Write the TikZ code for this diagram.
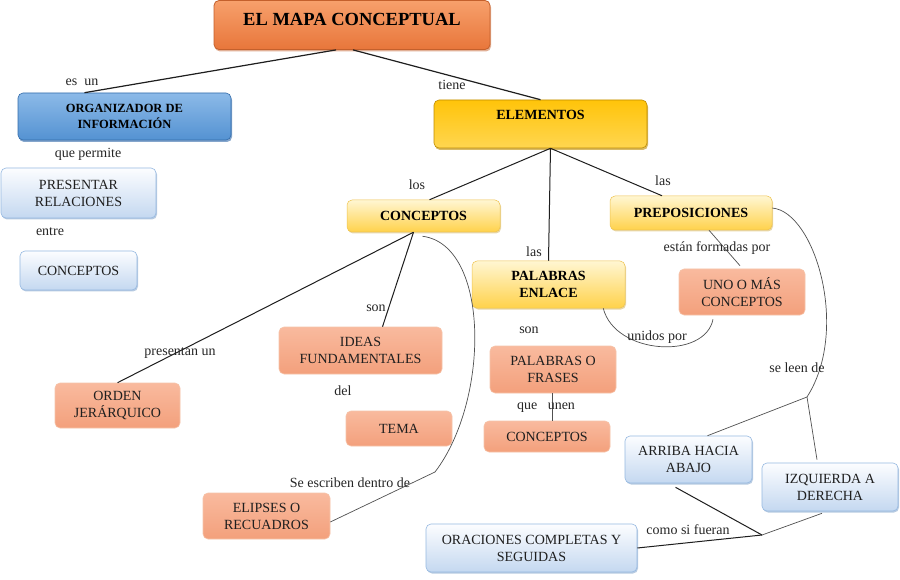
\documentclass[tikz,border=0pt]{standalone}
\usepackage{fontspec}
\setmainfont{Liberation Serif}
\usetikzlibrary{shadows,calc}
\definecolor{orTop}{RGB}{247,160,108}
\definecolor{orBot}{RGB}{232,118,58}
\definecolor{orDraw}{RGB}{196,96,44}
\definecolor{blTop}{RGB}{140,186,232}
\definecolor{blBot}{RGB}{84,146,210}
\definecolor{blDraw}{RGB}{52,108,170}
\definecolor{gdTop}{RGB}{255,196,10}
\definecolor{gdBot}{RGB}{255,214,80}
\definecolor{gdDraw}{RGB}{190,140,0}
\definecolor{lbTop}{RGB}{252,253,255}
\definecolor{lbBot}{RGB}{196,216,240}
\definecolor{lbDraw}{RGB}{150,185,225}
\definecolor{lyTop}{RGB}{255,246,210}
\definecolor{lyBot}{RGB}{255,210,75}
\definecolor{lyDraw}{RGB}{238,196,80}
\definecolor{saTop}{RGB}{249,186,158}
\definecolor{saBot}{RGB}{243,160,124}
\definecolor{saDraw}{RGB}{246,196,170}
\definecolor{lineC}{RGB}{30,30,30}
\definecolor{curveC}{RGB}{80,80,80}
\begin{document}
\begin{tikzpicture}[x=1pt,y=-1pt,
  box/.style={rounded corners=5pt, align=center, inner sep=0pt,
    font=\fontsize{14}{17}\selectfont, text=black!88},
  bbox/.style={box, font=\fontsize{14}{17}\selectfont\bfseries, text=black},
  titlebox/.style={box, top color=orTop, bottom color=orBot, draw=orDraw, line width=0.8pt,
    font=\fontsize{18.5}{20}\selectfont\bfseries, text=black,
    drop shadow={shadow xshift=1pt, shadow yshift=-2pt, opacity=0.5, fill=orDraw}},
  orgbox/.style={bbox, top color=blTop, bottom color=blBot, draw=blDraw, line width=0.6pt,
    font=\fontsize{12.5}{16}\selectfont\bfseries,
    drop shadow={shadow xshift=1pt, shadow yshift=-2pt, opacity=0.6, fill=blDraw}},
  goldbox/.style={bbox, top color=gdTop, bottom color=gdBot, draw=gdDraw, line width=0.6pt,
    drop shadow={shadow xshift=1pt, shadow yshift=-2pt, opacity=0.6, fill=gdDraw}},
  lybox/.style={bbox, top color=lyTop, bottom color=lyBot, draw=lyDraw, line width=0.5pt,
    drop shadow={shadow xshift=1pt, shadow yshift=-1.5pt, opacity=0.35, fill=gdDraw}},
  lbbox/.style={box, top color=lbTop, bottom color=lbBot, draw=lbDraw, line width=0.6pt,
    drop shadow={shadow xshift=1pt, shadow yshift=-1.5pt, opacity=0.35, fill=blDraw}},
  sabox/.style={box, top color=saTop, bottom color=saBot, draw=saDraw, line width=0.6pt},
  lbl/.style={font=\fontsize{14}{16}\selectfont, text=black!85, inner sep=0pt},
  link/.style={draw=lineC, line width=1pt},
  thin/.style={draw=curveC, line width=0.7pt}
]
\useasboundingbox[fill=white] (0,0) rectangle (900,580);

% nodes
\node[titlebox, minimum width=276pt, minimum height=49pt] (title) at (352,25) {EL MAPA CONCEPTUAL\\[-8pt]};
\node[orgbox, minimum width=213pt, minimum height=47pt] (org) at (124.5,116.5) {ORGANIZADOR DE\\INFORMACIÓN};
\node[goldbox, minimum width=213pt, minimum height=48pt] (elem) at (540.5,124) {ELEMENTOS\\[2pt]};
\node[lbbox, minimum width=155pt, minimum height=50pt] (pres) at (78.5,193) {PRESENTAR\\RELACIONES};
\node[lbbox, minimum width=117pt, minimum height=39pt] (concL) at (78.5,270.5) {CONCEPTOS};
\node[lybox, minimum width=153pt, minimum height=32pt] (concY) at (423.5,216) {CONCEPTOS};
\node[lybox, minimum width=162pt, minimum height=34pt] (prep) at (691,213) {PREPOSICIONES};
\node[lybox, minimum width=153pt, minimum height=47pt] (palE) at (548.5,284.5) {PALABRAS\\ENLACE};
\node[sabox, minimum width=126pt, minimum height=46pt] (uno) at (742,292) {UNO O MÁS\\CONCEPTOS};
\node[sabox, minimum width=163pt, minimum height=47pt] (ideas) at (360.5,350.5) {IDEAS\\FUNDAMENTALES};
\node[sabox, minimum width=125pt, minimum height=45pt] (orden) at (117.5,405.5) {ORDEN\\JERÁRQUICO};
\node[sabox, minimum width=106pt, minimum height=35pt] (tema) at (399,428.5) {TEMA};
\node[sabox, minimum width=126pt, minimum height=47pt] (palF) at (553,369.5) {PALABRAS O\\FRASES};
\node[sabox, minimum width=126pt, minimum height=31pt] (concS) at (547,436.5) {CONCEPTOS};
\node[sabox, minimum width=127pt, minimum height=46pt] (elip) at (266.5,516) {ELIPSES O\\RECUADROS};
\node[lbbox, minimum width=127pt, minimum height=47pt] (arriba) at (688.5,459.5) {ARRIBA HACIA\\ABAJO};
\node[lbbox, minimum width=136pt, minimum height=48pt] (izq) at (830,487) {IZQUIERDA A\\DERECHA};
\node[lbbox, minimum width=211pt, minimum height=48pt] (orac) at (531.5,548) {ORACIONES COMPLETAS Y\\SEGUIDAS};

\coordinate (J1) at (807,397);
\coordinate (J2) at (762,535);

% connectors
\draw[link, line width=1.2pt] ([xshift=-16pt]title.south) -- ([xshift=-40pt]org.north);
\draw[link, line width=1.2pt] ([xshift=1pt]title.south) -- (elem.north);
\draw[link] ([xshift=10pt]elem.south) -- ([xshift=6pt]concY.north);
\draw[link] ([xshift=10pt]elem.south) -- (palE.north);
\draw[link] ([xshift=10pt]elem.south) -- ([xshift=-29pt]prep.north);
\draw[link] ([xshift=-10pt]concY.south) -- (orden.north);
\draw[link] ([xshift=-10pt]concY.south) -- ([xshift=22pt]ideas.north);
\draw[thin] ([xshift=-1pt,yshift=-4pt]concY.south) .. controls (490,245) and (490,400) .. (435,472) -- ([yshift=-6pt]elip.east);
\draw[thin] ([xshift=-22pt]palE.south east) .. controls (615,355) and (705,360) .. ([xshift=-29pt,yshift=-4pt]uno.south);
\draw[thin] ([xshift=18pt]prep.south) -- ([xshift=-2pt,yshift=3pt]uno.north);
\draw[thin] ([yshift=5pt]prep.east) .. controls (815,212) and (850,330) .. (J1);
\draw[thin] ([xshift=19pt]arriba.north) -- (J1);
\draw[thin] ([xshift=-13pt,yshift=3pt]izq.north) -- (J1);
\draw[thin] ([xshift=-1pt]palF.south) -- ([xshift=5pt]concS.north);
\draw[link] ([xshift=-13pt,yshift=-4pt]arriba.south) -- (J2);
\draw[thin] ([xshift=-8pt,yshift=-2pt]izq.south) -- (J2);
\draw[link] (orac.east) -- (J2);

% labels
\node[lbl] (l1) at (82,82) {es\ \ un};
\node[lbl] (l2) at (452,85) {tiene};
\node[lbl] (l3) at (88,154) {que permite};
\node[lbl] (l4) at (50,232) {entre};
\node[lbl] (l5) at (417,185) {los};
\node[lbl] (l6) at (663,181) {las};
\node[lbl] (l7) at (534,252) {las};
\node[lbl] (l8) at (717,248) {están formadas por};
\node[lbl] (l9) at (529,330) {son};
\node[lbl] (l10) at (657,337) {unidos por};
\node[lbl] (l11) at (376,308) {son};
\node[lbl] (l12) at (180,353) {presentan un};
\node[lbl] (l13) at (343,391) {del};
\node[lbl] (l14) at (797,368) {se leen de};
\node[lbl] (l15) at (546,408) {que\ \ \ unen};
\node[lbl] (l16) at (350,483) {Se escriben dentro de};
\node[lbl] (l17) at (688,530) {como si fueran};
\end{tikzpicture}
\end{document}
